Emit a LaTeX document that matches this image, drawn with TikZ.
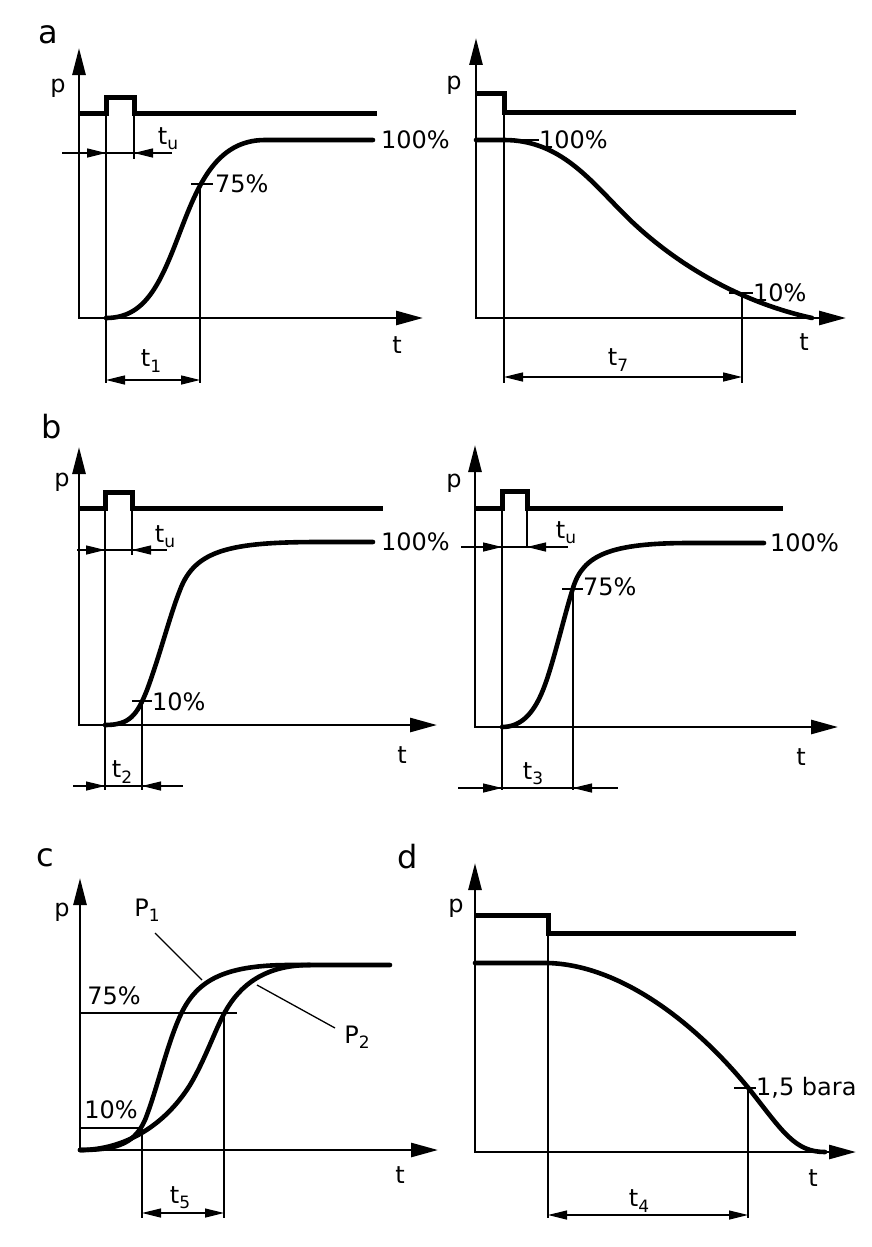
\documentclass[tikz,border=0pt]{standalone}
\usepackage{fontspec}
\setmainfont{DejaVu Sans}
\usetikzlibrary{arrows.meta}
\newcommand{\lowsub}[2]{#1\raisebox{-0.4ex}{\fontsize{17}{17}\selectfont #2}}
\tikzset{
  axisline/.style={line width=2.7pt, line join=miter, {Triangle[length=27pt,width=13pt]}-{Triangle[length=27pt,width=14pt]}},
  sigline/.style={line width=5pt, line join=miter},
  curveline/.style={line width=4.6pt, line cap=round},
  thinline/.style={line width=1.3pt},
  dimboth/.style={thinline, {Triangle[length=19pt,width=9pt]}-{Triangle[length=19pt,width=9pt]}},
  dimend/.style={thinline, -{Triangle[length=19pt,width=9pt]}},
  lbl/.style={inner sep=0pt, font=\fontsize{24}{28}\selectfont},
  plbl/.style={inner sep=0pt, font=\fontsize{32}{36}\selectfont},
}
\begin{document}
\begin{tikzpicture}[x=1pt,y=-1pt]
\path[use as bounding box, fill=white] (0,0) rectangle (872,1247);

% ---------------- panel a left ----------------
\node[plbl] (la) at (48,35) {a};
\draw[axisline] (79,48) -- (79,318) -- (423,318);
\node[lbl] (pa1) at (58,88) {p};
\node[lbl] (ta1) at (397,345) {t};
\draw[sigline] (79,113) -- (106,113) -- (106,97) -- (134,97) -- (134,113) -- (377,113);
\draw[thinline] (106,113) -- (106,383);
\draw[thinline] (134,113) -- (134,159);
\draw[thinline] (62,153) -- (172,153);
\draw[dimend] (84,153) -- (106,153);
\draw[dimend] (156,153) -- (134,153);
\node[lbl] (tua1) at (168,139) {\lowsub{t}{u}};
\draw[curveline] (106,318) .. controls (145,318) and (160,285) .. (180,232)
  .. controls (197,188) and (215,140) .. (265,140) -- (373,140);
\node[lbl, anchor=west] (ha1) at (381,140) {100\%};
\draw[thinline] (191,184) -- (213,184);
\node[lbl, anchor=west] (sa1) at (215,184) {75\%};
\draw[thinline] (200,184) -- (200,383);
\draw[dimboth] (106,380) -- (200,380);
\node[lbl] (t1) at (151,361) {\lowsub{t}{1}};

% ---------------- panel a right ----------------
\draw[axisline] (476,38) -- (476,318) -- (846,318);
\node[lbl] (pa2) at (454,85) {p};
\node[lbl] (ta2) at (804,342) {t};
\draw[sigline] (476,93) -- (504,93) -- (504,112) -- (796,112);
\draw[curveline] (476,140) -- (504,140) .. controls (560,140) and (590,180) .. (625,215)
  .. controls (665,255) and (730,300) .. (812,318);
\draw[thinline] (519,140) -- (539,140);
\node[lbl, anchor=west] (ha2) at (539,140) {100\%};
\draw[thinline] (729,293) -- (753,293);
\node[lbl, anchor=west] (da2) at (753,293) {10\%};
\draw[thinline] (504,112) -- (504,383);
\draw[thinline] (742,293) -- (742,383);
\draw[dimboth] (504,377) -- (742,377);
\node[lbl] (t7) at (618,360) {\lowsub{t}{7}};

% ---------------- panel b left ----------------
\node[plbl] (lb) at (52,427) {b};
\draw[axisline] (79,447) -- (79,725) -- (437,725);
\node[lbl] (pb1) at (62,482) {p};
\node[lbl] (tb1) at (402,755) {t};
\draw[sigline] (79,508) -- (105,508) -- (105,492) -- (132,492) -- (132,508) -- (383,508);
\draw[thinline] (105,508) -- (105,790);
\draw[thinline] (132,508) -- (132,555);
\draw[thinline] (77,550) -- (167,550);
\draw[dimend] (83,550) -- (105,550);
\draw[dimend] (154,550) -- (132,550);
\node[lbl] (tub1) at (165,537) {\lowsub{t}{u}};
\draw[curveline] (105,725) .. controls (130,725) and (137,715) .. (147,690)
  .. controls (160,655) and (170,615) .. (180,590)
  .. controls (195,550) and (230,542) .. (320,542) -- (373,542);
\node[lbl, anchor=west] (hb1) at (381,542) {100\%};
\draw[thinline] (132,701) -- (152,701);
\node[lbl, anchor=west] (db1) at (152,702) {10\%};
\draw[thinline] (142,701) -- (142,790);
\draw[thinline] (73,786) -- (183,786);
\draw[dimend] (80,786) -- (105,786);
\draw[dimend] (167,786) -- (142,786);
\node[lbl] (t2) at (122,772) {\lowsub{t}{2}};

% ---------------- panel b right ----------------
\draw[axisline] (475,445) -- (475,727) -- (838,727);
\node[lbl] (pb2) at (454,483) {p};
\node[lbl] (tb2) at (801,757) {t};
\draw[sigline] (475,508) -- (502,508) -- (502,491) -- (527,491) -- (527,508) -- (783,508);
\draw[thinline] (502,508) -- (502,790);
\draw[thinline] (527,508) -- (527,548);
\draw[thinline] (461,547) -- (568,547);
\draw[dimend] (478,547) -- (502,547);
\draw[dimend] (550,547) -- (527,547);
\node[lbl] (tub2) at (566,533) {\lowsub{t}{u}};
\draw[curveline] (502,727) .. controls (520,727) and (533,715) .. (543,690)
  .. controls (553,665) and (563,620) .. (573,588)
  .. controls (583,555) and (610,543) .. (690,543) -- (764,543);
\node[lbl, anchor=west] (hb2) at (770,543) {100\%};
\draw[thinline] (562,589) -- (583,589);
\node[lbl, anchor=west] (sb2) at (583,587) {75\%};
\draw[thinline] (573,589) -- (573,790);
\draw[thinline] (458,788) -- (618,788);
\draw[dimend] (478,788) -- (502,788);
\draw[dimend] (597,788) -- (573,788);
\node[lbl] (t3) at (533,774) {\lowsub{t}{3}};

% ---------------- panel c ----------------
\node[plbl] (lc) at (45,858) {c};
\draw[axisline] (80,878) -- (80,1150) -- (438,1150);
\node[lbl] (pc) at (62,912) {p};
\node[lbl] (tc) at (400,1175) {t};
\draw[curveline] (80,1150) .. controls (120,1150) and (135,1142) .. (145,1120)
  .. controls (157,1090) and (168,1040) .. (182,1012)
  .. controls (198,980) and (225,965) .. (290,965) -- (390,965);
\draw[curveline] (80,1150) .. controls (125,1150) and (165,1125) .. (190,1085)
  .. controls (205,1060) and (215,1030) .. (225,1012)
  .. controls (240,985) and (265,965) .. (310,965);
\draw[thinline] (80,1013) -- (237,1013);
\node[lbl] (sc) at (114,996) {75\%};
\draw[thinline] (80,1128) -- (142,1128);
\node[lbl] (dc) at (111,1110) {10\%};
\draw[thinline] (142,1128) -- (142,1218);
\draw[thinline] (224,1013) -- (224,1218);
\draw[dimboth] (142,1213) -- (224,1213);
\node[lbl] (t5) at (180,1198) {\lowsub{t}{5}};
\node[lbl] (P1) at (147,910) {\lowsub{P}{1}};
\coordinate (P1end) at (202,980);
\draw[thinline] (155,933) -- (P1end);
\node[lbl] (P2) at (357,1037) {\lowsub{P}{2}};
\coordinate (P2end) at (257,985);
\draw[thinline] (335,1028) -- (P2end);

% ---------------- panel d ----------------
\node[plbl] (ld) at (408,857) {d};
\draw[axisline] (475,863) -- (475,1152) -- (856,1152);
\node[lbl] (pd) at (456,908) {p};
\node[lbl] (td) at (813,1178) {t};
\draw[sigline] (475,915) -- (548,915) -- (548,933) -- (796,933);
\draw[curveline] (475,963) -- (548,963) .. controls (620,965) and (695,1022) .. (750,1090)
  .. controls (783,1132) and (795,1152) .. (825,1152);
\draw[thinline] (734,1088) -- (756,1088);
\node[lbl, anchor=west] (bd) at (756,1088) {1,5 bara};
\draw[thinline] (748,1088) -- (748,1218);
\draw[thinline] (548,933) -- (548,1218);
\draw[dimboth] (548,1215) -- (748,1215);
\node[lbl] (t4) at (639,1201) {\lowsub{t}{4}};
\end{tikzpicture}
\end{document}
